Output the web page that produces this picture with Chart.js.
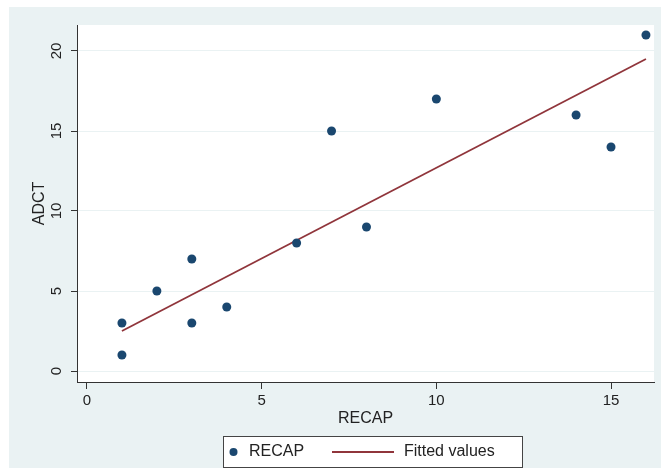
<!DOCTYPE html>
<html>
<head>
<meta charset="utf-8">
<script src="https://cdn.jsdelivr.net/npm/chart.js@4.4.1/dist/chart.umd.min.js"></script>
<style>
  html, body { margin: 0; padding: 0; background: #ffffff; }
  #wrap { position: relative; width: 661px; height: 468px; }
</style>
</head>
<body>
<div id="wrap"><canvas id="c" width="661" height="468"></canvas></div>
<script>
// ---- data ----
const recapX = [1, 1, 2, 3, 3, 4, 6, 7, 8, 10, 14, 15, 16];
const adctY  = [3, 1, 5, 7, 3, 4, 8, 15, 9, 17, 16, 14, 21];
const fitX = [1, 16];
const fitY = [2.5, 19.5];
const xTicks = [0, 5, 10, 15];
const yTicks = [0, 5, 10, 15, 20];
const xTitle = 'RECAP';
const yTitle = 'ADCT';
const scatterLabel = 'RECAP';
const fitLabel = 'Fitted values';

const NAVY = '#1a476f';
const MAROON = '#90353b';
const BG = '#eaf2f3';
const INK = '#222222';
const FONT = "'Liberation Sans', Arial, sans-serif";

Chart.defaults.font.family = FONT;
Chart.defaults.color = INK;

const bgPlugin = {
  id: 'bgPlugin',
  beforeDraw(chart) {
    const ctx = chart.ctx, a = chart.chartArea;
    ctx.save();
    ctx.fillStyle = '#ffffff';
    ctx.fillRect(0, 0, chart.width, chart.height);
    ctx.fillStyle = BG;
    ctx.fillRect(9, 7, chart.width - 9, chart.height - 7);
    ctx.fillStyle = '#ffffff';
    ctx.fillRect(a.left, a.top, a.right - a.left, a.bottom - a.top);
    ctx.restore();
  }
};

const yLabelPlugin = {
  id: 'yLabelPlugin',
  afterDraw(chart) {
    const ctx = chart.ctx, y = chart.scales.y;
    ctx.save();
    ctx.fillStyle = INK;
    ctx.font = '15px ' + FONT;
    ctx.textAlign = 'center';
    ctx.textBaseline = 'middle';
    y.ticks.forEach(t => {
      const py = y.getPixelForValue(t.value);
      ctx.save();
      ctx.translate(57, py);
      ctx.rotate(-Math.PI / 2);
      ctx.fillText(String(t.value), 0, 0);
      ctx.restore();
    });
    ctx.restore();
  }
};

const legendPlugin = {
  id: 'legendBox',
  afterDraw(chart) {
    const ctx = chart.ctx;
    const ds = chart.data.datasets;
    const bx = 223, by = 436, bw = 299, bh = 31, cy = 452;
    ctx.save();
    ctx.fillStyle = '#ffffff';
    ctx.fillRect(bx, by, bw, bh);
    ctx.strokeStyle = '#444444';
    ctx.lineWidth = 1;
    ctx.strokeRect(bx + 0.5, by + 0.5, bw, bh);
    // scatter marker
    ctx.fillStyle = NAVY;
    ctx.beginPath();
    ctx.arc(233.5, cy, 4, 0, Math.PI * 2);
    ctx.fill();
    ctx.fillStyle = INK;
    ctx.font = '16px ' + FONT;
    ctx.textAlign = 'left';
    ctx.textBaseline = 'middle';
    ctx.fillText(ds[0].label, 249, cy);
    // line marker
    ctx.strokeStyle = MAROON;
    ctx.lineWidth = 1.8;
    ctx.beginPath();
    ctx.moveTo(332, cy);
    ctx.lineTo(394, cy);
    ctx.stroke();
    ctx.fillText(ds[1].label, 404, cy);
    ctx.restore();
  }
};

new Chart(document.getElementById('c'), {
  type: 'scatter',
  data: {
    datasets: [
      {
        label: scatterLabel,
        data: recapX.map((x, i) => ({ x: x, y: adctY[i] })),
        pointRadius: 4.5,
        pointHoverRadius: 4.5,
        pointBackgroundColor: NAVY,
        pointBorderColor: NAVY,
        pointBorderWidth: 0,
        showLine: false,
        order: 1
      },
      {
        label: fitLabel,
        data: fitX.map((x, i) => ({ x: x, y: fitY[i] })),
        showLine: true,
        borderColor: MAROON,
        borderWidth: 1.8,
        pointRadius: 0,
        fill: false,
        order: 2
      }
    ]
  },
  options: {
    responsive: false,
    animation: false,
    events: [],
    layout: { padding: { left: 0, top: 25, right: 7, bottom: 40 } },
    plugins: {
      legend: { display: false },
      tooltip: { enabled: false }
    },
    scales: {
      x: {
        type: 'linear',
        position: 'bottom',
        min: -0.286,
        max: 16.23,
        afterBuildTicks: s => { s.ticks = xTicks.map(v => ({ value: v })); },
        afterFit: s => { s.height = 46; },
        ticks: { font: { size: 15 }, color: INK, padding: 3, maxRotation: 0 },
        grid: { drawOnChartArea: false, drawTicks: true, tickLength: 7, tickColor: '#333333', tickWidth: 1 },
        border: { display: true, color: '#333333', width: 1 },
        title: { display: true, text: xTitle, font: { size: 16 }, color: INK, padding: { top: 0, bottom: 0 } }
      },
      y: {
        type: 'linear',
        position: 'left',
        min: -0.6875,
        max: 21.625,
        afterBuildTicks: s => { s.ticks = yTicks.map(v => ({ value: v })); },
        afterFit: s => { s.width = 77; },
        ticks: { display: false },
        grid: { color: BG, lineWidth: 1, drawTicks: true, tickLength: 6, tickColor: '#333333', tickWidth: 1 },
        border: { display: true, color: '#333333', width: 1 },
        title: { display: true, text: yTitle, font: { size: 16 }, color: INK, padding: { top: 30, bottom: 0 } }
      }
    }
  },
  plugins: [bgPlugin, yLabelPlugin, legendPlugin]
});
</script>
</body>
</html>
